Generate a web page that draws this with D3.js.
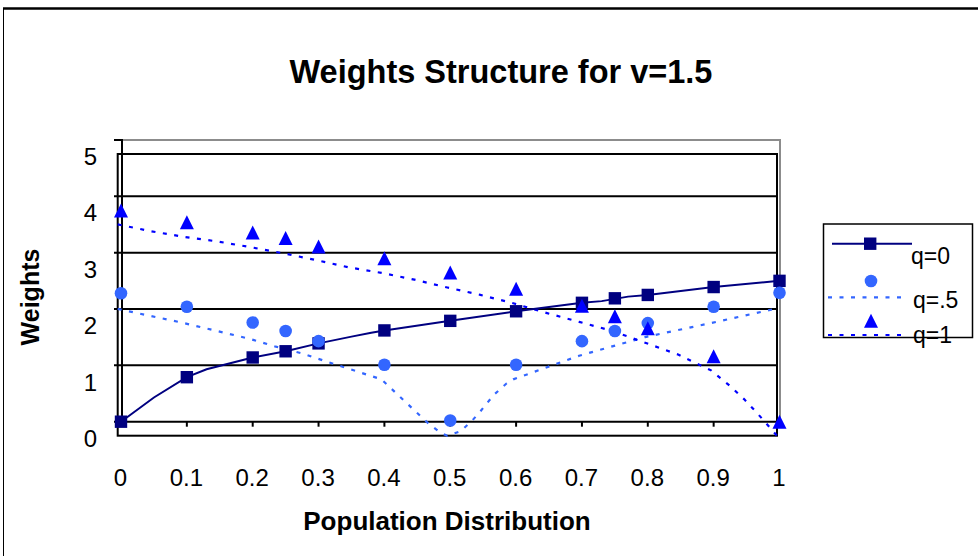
<!DOCTYPE html>
<html><head><meta charset="utf-8">
<script src="https://cdn.jsdelivr.net/npm/d3@7"></script>
<style>
body{margin:0;background:#fff;}
svg{display:block;font-family:Arial,"Liberation Sans",sans-serif;}
</style>
</head><body>
<svg id="c" width="978" height="556"></svg>
<script>
// ---- data ----
const markerX   = [0, 0.1, 0.2, 0.25, 0.3, 0.4, 0.5, 0.6, 0.7, 0.75, 0.8, 0.9, 1];
const q0Markers = [0, 0.79, 1.14, 1.25, 1.39, 1.62, 1.79, 1.96, 2.11, 2.19, 2.25, 2.39, 2.50];
const q05Markers= [2.28, 2.04, 1.76, 1.61, 1.43, 1.01, 0.02, 1.01, 1.43, 1.61, 1.75, 2.04, 2.29];
const q1Markers = [3.75, 3.54, 3.36, 3.26, 3.11, 2.90, 2.65, 2.36, 2.06, 1.87, 1.66, 1.16, 0.0];

const q0LineX = [0, 0.05, 0.1, 0.13, 0.2, 0.25, 0.3, 0.35, 0.38, 0.4, 0.5, 0.6, 0.7, 0.73, 0.77, 0.8, 0.9, 1];
const q0LineY = [0, 0.43, 0.79, 0.93, 1.14, 1.25, 1.39, 1.51, 1.58, 1.62, 1.79, 1.96, 2.11, 2.14, 2.22, 2.25, 2.39, 2.50];

const q05LineX = [0, 0.1, 0.2, 0.24, 0.28, 0.3, 0.4, 0.47, 0.49, 0.5, 0.52, 0.537, 0.55, 0.57, 0.59, 0.6, 0.7, 0.8, 0.9, 1];
const q05LineY = [2.25, 2.0, 1.72, 1.58, 1.46, 1.38, 1.0, 0.23, 0.05, 0, 0.08, 0.26, 0.43, 0.72, 0.93, 1.0, 1.42, 1.75, 2.0, 2.26];

const q1LineX = [0, 0.05, 0.1, 0.15, 0.2, 0.25, 0.3, 0.35, 0.4, 0.45, 0.5, 0.55, 0.6, 0.65, 0.7, 0.75, 0.8, 0.85, 0.9, 0.93, 0.95, 0.97, 1];
const q1LineY = [3.75, 3.63, 3.53, 3.45, 3.35, 3.24, 3.12, 2.99, 2.89, 2.77, 2.63, 2.5, 2.35, 2.18, 2.02, 1.86, 1.65, 1.44, 1.16, 0.87, 0.65, 0.4, 0];

const xTicks = [0, 0.1, 0.2, 0.3, 0.4, 0.5, 0.6, 0.7, 0.8, 0.9, 1];
const yTicks = [0, 1, 2, 3, 4, 5];
const seriesNames = ["q=0", "q=.5", "q=1"];
const title = "Weights Structure for v=1.5";
const xTitle = "Population Distribution";
const yTitle = "Weights";

const cNavy = "#000080", cLight = "#3366FF", cBlue = "#0000FF";
const FONT = "Arial, 'Liberation Sans', sans-serif";

// ---- chart ----
const svg = d3.select("#c");
// primary plot frame (markers, grid)
const xA = d3.scaleLinear().domain([0, 1]).range([121, 779.5]);
const yA = d3.scaleLinear().domain([0, 5]).range([421.7, 140]);
// offset frame (labels, dotted lines)
const xB = d3.scaleLinear().domain([0, 1]).range([117.7, 777]);
const yB = d3.scaleLinear().domain([0, 5]).range([435.7, 154]);

// outer border
svg.append("rect").attr("x", 3.5).attr("y", 8.5).attr("width", 1000).attr("height", 600)
  .attr("fill", "#fff").attr("stroke", "#000").attr("stroke-width", 1);
svg.append("line").attr("x1", 3).attr("x2", 978).attr("y1", 8.5).attr("y2", 8.5)
  .attr("stroke", "#000").attr("stroke-width", 2.5);

// gray plot border (top/right)
svg.append("path")
  .attr("d", `M${xA(0)+1},${yA(5)}H${xA(1)+0.5}V${yA(0)}`)
  .attr("fill", "none").attr("stroke", "#8c8c8c").attr("stroke-width", 2);

// grid lines + ticks
svg.append("g").selectAll("line").data(yTicks).join("line")
  .attr("x1", 114).attr("x2", d => d === 5 ? xA(0)+1 : xB(1))
  .attr("y1", d => yA(d)).attr("y2", d => yA(d))
  .attr("stroke", "#000").attr("stroke-width", 2);

// offset frame
svg.append("rect")
  .attr("x", xB(0)).attr("y", yB(5))
  .attr("width", xB(1) - xB(0)).attr("height", yB(0) - yB(5))
  .attr("fill", "none").attr("stroke", "#000").attr("stroke-width", 2);

// primary y axis line
svg.append("line").attr("x1", xA(0)+1).attr("x2", xA(0)+1)
  .attr("y1", yA(5)-1).attr("y2", yA(0)+5).attr("stroke", "#000").attr("stroke-width", 2);

// x ticks
svg.append("g").selectAll("line").data(xTicks).join("line")
  .attr("x1", d => xA(d)).attr("x2", d => xA(d))
  .attr("y1", yA(0)).attr("y2", yA(0) + 5)
  .attr("stroke", "#000").attr("stroke-width", 2);

// y tick labels
const yAx = svg.append("g").attr("transform", "translate(97,2)")
  .call(d3.axisLeft(yB).tickValues(yTicks).tickSize(0).tickPadding(0).tickFormat(d3.format("d")));
yAx.attr("font-size", null).attr("font-family", null);
yAx.select(".domain").remove();
yAx.selectAll("text").attr("dy", "0.36em").style("font-size", "24px").style("font-family", FONT).attr("fill", "#000");

// x tick labels
const xAx = svg.append("g").attr("transform", `translate(-1,${yA(0)+64.5})`)
  .call(d3.axisBottom(xA).tickValues(xTicks).tickSize(0).tickPadding(0).tickFormat(d => String(d)));
xAx.attr("font-size", null).attr("font-family", null);
xAx.select(".domain").remove();
xAx.selectAll("text").attr("dy", "0").style("font-size", "24px").style("font-family", FONT).attr("fill", "#000");

// dotted lines (offset frame)
const lineB = d3.line().x(d => xB(d[0])).y(d => yB(d[1]));
svg.append("path").datum(d3.zip(q05LineX, q05LineY)).attr("d", lineB)
  .attr("fill", "none").attr("stroke", cLight).attr("stroke-width", 2.2).attr("stroke-dasharray", "4,7.5");
svg.append("path").datum(d3.zip(q1LineX, q1LineY)).attr("d", lineB)
  .attr("fill", "none").attr("stroke", cBlue).attr("stroke-width", 2.2).attr("stroke-dasharray", "4,7.5");

// solid q=0 line
const lineA = d3.line().x(d => xA(d[0])).y(d => yA(d[1]));
svg.append("path").datum(d3.zip(q0LineX, q0LineY)).attr("d", lineA)
  .attr("fill", "none").attr("stroke", cNavy).attr("stroke-width", 2);

// markers
const tri = (cx, cy, w) => `M${cx},${cy - w/2}L${cx + w/2},${cy + w/2}L${cx - w/2},${cy + w/2}Z`;
svg.append("g").selectAll("rect").data(d3.zip(markerX, q0Markers)).join("rect")
  .attr("x", d => xA(d[0]) - 6.2).attr("y", d => yA(d[1]) - 6.2)
  .attr("width", 12.4).attr("height", 12.4).attr("fill", cNavy);
svg.append("g").selectAll("circle").data(d3.zip(markerX, q05Markers)).join("circle")
  .attr("cx", d => xA(d[0])).attr("cy", d => yA(d[1])).attr("r", 6.3).attr("fill", cLight);
svg.append("g").selectAll("path").data(d3.zip(markerX, q1Markers)).join("path")
  .attr("d", d => tri(xA(d[0]), yA(d[1]), 14)).attr("fill", cBlue);

// titles
svg.append("text").attr("x", 501).attr("y", 83).attr("text-anchor", "middle")
  .style("font-size", "32.5px").attr("font-weight", "bold").text(title);
svg.append("text").attr("x", 447).attr("y", 530).attr("text-anchor", "middle")
  .style("font-size", "26px").attr("font-weight", "bold").text(xTitle);
svg.append("text").attr("transform", "translate(39,297) rotate(-90)").attr("text-anchor", "middle")
  .style("font-size", "25px").attr("font-weight", "bold").text(yTitle);

// legend
const lg = svg.append("g");
lg.append("rect").attr("x", 823.5).attr("y", 224).attr("width", 149).attr("height", 113.5)
  .attr("fill", "#fff").attr("stroke", "#000").attr("stroke-width", 1.5);
lg.append("line").attr("x1", 832).attr("x2", 912).attr("y1", 243.7).attr("y2", 243.7)
  .attr("stroke", cNavy).attr("stroke-width", 2);
lg.append("rect").attr("x", 864).attr("y", 237.5).attr("width", 12.4).attr("height", 12.4).attr("fill", cNavy);
lg.append("circle").attr("cx", 871).attr("cy", 281).attr("r", 6.3).attr("fill", cLight);
lg.append("line").attr("x1", 828).attr("x2", 906).attr("y1", 297.3).attr("y2", 297.3)
  .attr("stroke", cLight).attr("stroke-width", 2.2).attr("stroke-dasharray", "4,7.5");
lg.append("path").attr("d", tri(871, 320.7, 14)).attr("fill", cBlue);
lg.append("line").attr("x1", 828).attr("x2", 906).attr("y1", 335).attr("y2", 335)
  .attr("stroke", cBlue).attr("stroke-width", 2.2).attr("stroke-dasharray", "4,7.5");
const legY = [264, 308, 343];
lg.selectAll("text.l").data(seriesNames).join("text").attr("class", "l")
  .attr("x", (d, i) => i === 0 ? 911 : 913).attr("y", (d, i) => legY[i])
  .style("font-size", "23px").text(d => d);
</script>
</body></html>
